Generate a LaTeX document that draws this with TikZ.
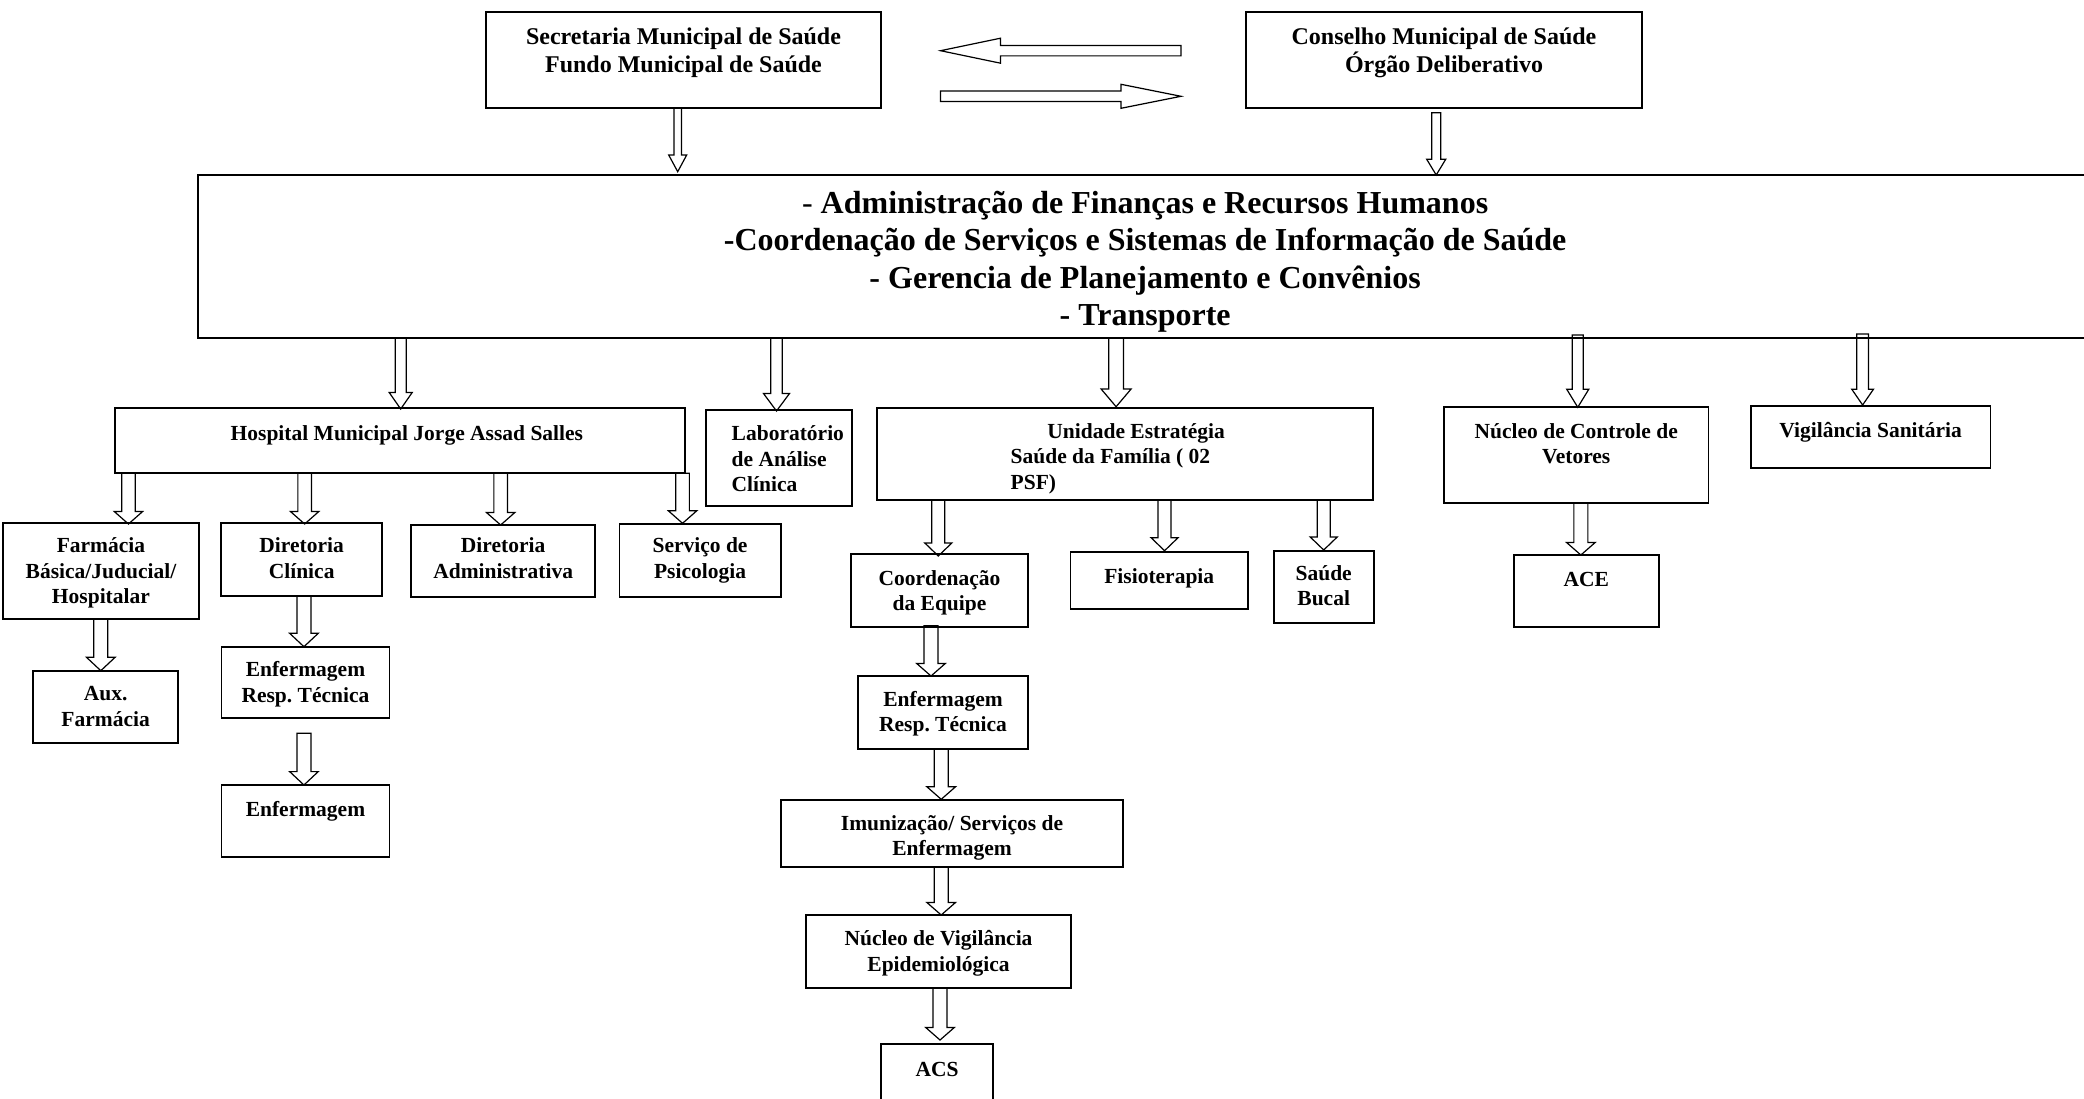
\documentclass[tikz,border=0pt]{standalone}
\usepackage{fontspec}
\setmainfont{Liberation Serif}
\usetikzlibrary{calc}
\frenchspacing
\tikzset{
  obox/.style={draw, line width=1.8pt, inner sep=0pt, outer sep=0pt, anchor=north west,
    font=\fontsize{21.5}{25.5}\selectfont\bfseries\frenchspacing},
  topbox/.style={font=\fontsize{24}{27.7}\selectfont\bfseries\frenchspacing},
  bigbox/.style={font=\fontsize{32}{37.5}\selectfont\bfseries\frenchspacing},
  arrline/.style={draw, line width=1.2pt, line join=miter},
}
\newcommand\obox[8][]{\node[obox,#1] (#2) at (#3,#4)
  {\parbox[c][\dimexpr#6pt-#4pt\relax][t]{\dimexpr#5pt-#3pt\relax}{\frenchspacing\centering\rule{0pt}{#7pt}#8}};}
\newcommand\setarr[3]{\def\hs{#1}\def\hh{#2}\def\hl{#3}}
\newcommand\varr[6]{%
  \coordinate (arS) at ($(#3.center |- #1.south)+(#4,#5)$);
  \coordinate (arT) at ($(#3.center |- #2.north)+(#4,#6)$);
  \draw[arrline] ($(arS)+(-\hs,0)$) -- ($(arT)+(-\hs,-\hl)$) -- ($(arT)+(-\hh,-\hl)$) -- (arT)
    -- ($(arT)+(\hh,-\hl)$) -- ($(arT)+(\hs,-\hl)$) -- ($(arS)+(\hs,0)$) -- cycle;}
\begin{document}
\begin{tikzpicture}[x=1pt,y=-1pt]
\useasboundingbox (0,0) rectangle (2084,1099);
\clip (0,0) rectangle (2084,1099);
% boxes
\obox[topbox]{sec}{486}{12.3}{881}{108.3}{32.7}{Secretaria Municipal de Saúde\\Fundo Municipal de Saúde}
\obox[topbox]{con}{1246}{12.3}{1642}{108.3}{32.7}{Conselho Municipal de Saúde\\Órgão Deliberativo}
\obox[bigbox]{big}{198.3}{175}{2092}{338}{38.3}{{\mdseries -} Administração de Finanças e Recursos Humanos\\-Coordenação de Serviços e Sistemas de Informação de Saúde\\- Gerencia de Planejamento e Convênios\\- Transporte}
\obox{hosp}{115}{408.3}{684.8}{473.3}{32.4}{\hspace*{14pt}Hospital Municipal Jorge Assad Salles}
\obox{lab}{706}{410}{852}{506}{30.7}{\raggedright\hspace*{25.7pt}Laboratório\\\hspace*{25.7pt}de Análise\\\hspace*{25.7pt}Clínica}
\obox{usf}{877.2}{408.3}{1373}{500}{30}{\raggedright\hspace*{170.2pt}Unidade Estratégia\\\hspace*{133.5pt}Saúde da Família ( 02\\\hspace*{133.5pt}PSF)}
\obox{ncv}{1444}{407.3}{1708.5}{503.3}{31}{Núcleo de Controle de\\Vetores}
\obox{vis}{1750.7}{406}{1990.5}{468.3}{31.3}{Vigilância Sanitária}
\obox{farm}{2.7}{523.3}{199.2}{619.3}{29.4}{Farmácia\\Básica/Juducial/\\Hospitalar}
\obox{dcl}{221}{523.3}{382.3}{595.7}{29.4}{Diretoria\\Clínica}
\obox{dad}{411}{525}{595.3}{596.7}{27.7}{Diretoria\\Administrativa}
\obox{psi}{619.4}{524.3}{780.7}{596.7}{28.4}{Serviço de\\Psicologia}
\obox{aux}{33}{670.7}{178.2}{743.3}{30}{Aux.\\Farmácia}
\obox{enfa}{221.5}{646.7}{389.4}{718.3}{30}{Enfermagem\\Resp. Técnica}
\obox{enfb}{221.5}{785}{389.4}{857.3}{31.7}{Enfermagem}
\obox{coord}{850.7}{554}{1028.3}{626.7}{31}{Coordenação\\da Equipe}
\obox{fis}{1070.5}{551.7}{1248}{609.3}{31.6}{Fisioterapia}
\obox{sb}{1273.7}{550.7}{1373.7}{623.3}{29.3}{Saúde\\Bucal}
\obox{ace}{1514}{555}{1658.7}{626.7}{31.7}{ACE}
\obox{enfc}{857.7}{676}{1028.3}{748.7}{30}{Enfermagem\\Resp. Técnica}
\obox{imu}{780.7}{800}{1123.3}{866.7}{30}{Imunização/ Serviços de\\Enfermagem}
\obox{nve}{806}{915}{1071}{987.7}{30.7}{Núcleo de Vigilância\\Epidemiológica}
\obox{acs}{880.7}{1044}{993.3}{1112}{32}{ACS}
% horizontal arrows
\coordinate (hlA) at ($(sec.north east)+(59.5,38.4)$);
\coordinate (hlB) at ($(con.north west)+(-65,38.4)$);
\draw[arrline] (hlA) -- ($(hlA)+(60,-12.5)$) -- ($(hlA)+(60,-5.2)$) -- ($(hlB)+(0,-5.2)$)
  -- ($(hlB)+(0,5.2)$) -- ($(hlA)+(60,5.2)$) -- ($(hlA)+(60,12.5)$) -- cycle;
\coordinate (hrA) at ($(sec.north east)+(59.5,84)$);
\coordinate (hrB) at ($(con.north west)+(-65,84)$);
\draw[arrline] ($(hrA)+(0,-5.3)$) -- ($(hrB)+(-60,-5.3)$) -- ($(hrB)+(-60,-12)$) -- (hrB)
  -- ($(hrB)+(-60,12)$) -- ($(hrB)+(-60,5.3)$) -- ($(hrA)+(0,5.3)$) -- cycle;
% vertical arrows
\setarr{3.7}{9}{16.7}
\varr{sec}{big}{sec}{-5.8}{0}{-3.3}
\setarr{4.5}{9.5}{15.7}
\varr{con}{big}{con}{-7.8}{4.4}{0}
\setarr{5.5}{11.5}{16.5}
\varr{big}{hosp}{hosp}{0.8}{0}{0.7}
\setarr{5.8}{13}{17.5}
\varr{big}{lab}{lab}{-2.5}{0}{1}
\setarr{7.3}{15}{17.7}
\varr{big}{usf}{usf}{-9}{0}{-1.6}
\setarr{5.5}{11}{18}
\varr{big}{ncv}{ncv}{1.5}{-3}{0}
\setarr{5.8}{10.8}{15.7}
\varr{big}{vis}{vis}{-8}{-4}{-1}
\setarr{6.8}{14.2}{12.5}
\varr{hosp}{farm}{farm}{27.5}{0}{0.7}
\varr{hosp}{dcl}{dcl}{3}{0}{0.7}
\varr{hosp}{dad}{dad}{-2.5}{0}{0}
\varr{hosp}{psi}{psi}{-17.5}{0}{-1}
\setarr{7}{14.3}{13.4}
\varr{farm}{aux}{aux}{-4.8}{0}{0}
\varr{dcl}{enfa}{enfa}{-1.5}{0}{0}
\varr{enfa}{enfb}{enfb}{-1.5}{15}{0}
\setarr{6.5}{13.5}{13}
\varr{usf}{coord}{coord}{-1.2}{0}{2}
\varr{usf}{fis}{fis}{5.3}{0}{-1}
\varr{usf}{sb}{sb}{0}{0}{-0.7}
\setarr{7}{14.3}{12.5}
\varr{coord}{enfc}{enfc}{-12}{-1}{0}
\varr{enfc}{imu}{imu}{-10.8}{0}{-0.7}
\varr{imu}{nve}{nve}{2.7}{0}{0}
\varr{nve}{acs}{acs}{3}{0}{-4}
\varr{ncv}{ace}{ace}{-5.5}{-0.6}{0}
\end{tikzpicture}
\end{document}
